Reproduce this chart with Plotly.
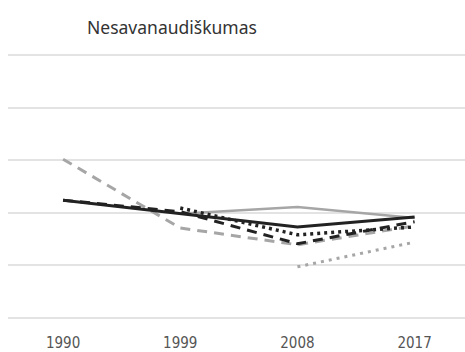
import plotly.graph_objects as go

# Survey years on the horizontal axis
years = ["1990", "1999", "2008", "2017"]
x_pos = [0, 1, 2, 3]

# Index values per series (None where the series has no data)
solid_dark = [2.24, 1.98, 1.73, 1.92]
solid_grey = [None, 1.98, 2.11, 1.90]
dash_grey = [3.02, 1.71, 1.39, 1.75]
dash_dark = [2.24, 2.02, 1.41, 1.83]
dot_dark = [None, 2.09, 1.58, 1.73]
dot_grey = [None, None, 0.97, 1.44]

grid_vals = [0, 1, 2, 3, 4, 5]

series = [
    (solid_grey, "#a6a6a6", "solid", 2.5),
    (dash_grey, "#a6a6a6", "10px,7px", 3),
    (dot_grey, "#a6a6a6", "3px,5px", 3),
    (dash_dark, "#222222", "10px,7px", 3),
    (dot_dark, "#222222", "3px,4px", 3.5),
    (solid_dark, "#222222", "solid", 3),
]

fig = go.Figure()
for vals, color, dash, width in series:
    fig.add_trace(go.Scatter(
        x=x_pos, y=vals, mode="lines",
        line=dict(color=color, dash=dash, width=width),
        connectgaps=False, showlegend=False, hoverinfo="skip",
    ))

fig.update_layout(
    width=465, height=352,
    margin=dict(l=8, r=0, t=50, b=29),
    paper_bgcolor="white", plot_bgcolor="white",
    xaxis=dict(
        range=[-0.47, 3.43], tickmode="array", tickvals=x_pos, ticktext=years,
        showgrid=False, zeroline=False, showline=False, automargin=False,
        tickfont=dict(family="DejaVu Sans Condensed, sans-serif", size=15, color="#555555"),
        ticks="", ticklabelstandoff=9,
    ),
    yaxis=dict(
        range=[-0.1, 5.1], tickmode="array", tickvals=grid_vals, automargin=False,
        showticklabels=False, showgrid=True, gridcolor="#e3e3e3", gridwidth=2,
        zeroline=False, showline=False,
    ),
    annotations=[dict(
        text="Nesavanaudiškumas", xref="paper", yref="paper",
        x=(85 - 8) / 457, y=1 + 23 / 273, xanchor="left", yanchor="middle",
        showarrow=False,
        font=dict(family="Noto Sans, Open Sans, sans-serif", size=17.5, color="#333333"),
    )],
)

fig.write_html("out.html")
